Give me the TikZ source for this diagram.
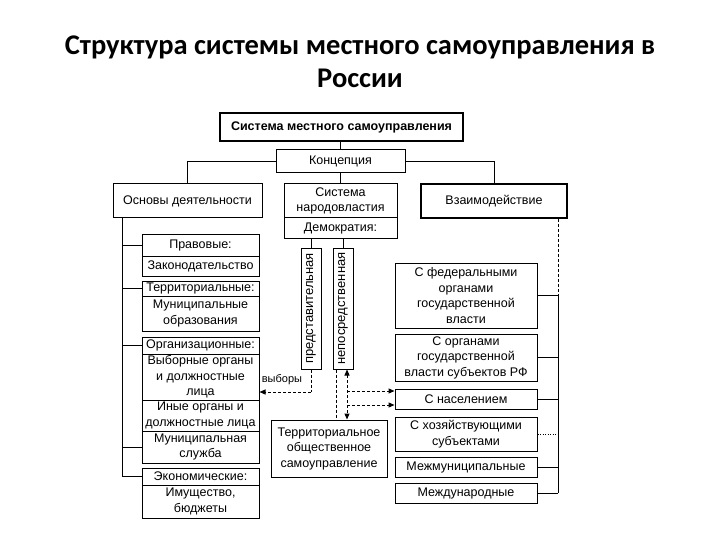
\documentclass[tikz,border=0pt]{standalone}
\usepackage{fontspec}
\setmainfont{Liberation Sans}
\newfontfamily\titlefont{Carlito}
\usetikzlibrary{arrows.meta,calc}
\newcommand\rbox[7][]{%
  \node[box,#1,minimum width={#5-#3},minimum height={#6-#4}] (#2) at ({(#3+#5)/2},{(#4+#6)/2}) {#7};}
\begin{document}
\begin{tikzpicture}[x=1pt,y=-1pt,
  box/.style={draw, line width=1pt, inner sep=0pt, align=center, font=\fontsize{12.5}{15.5}\selectfont},
  thickbox/.style={line width=1.8pt},
  conn/.style={line width=1pt},
  darr/.style={line width=1pt, dash pattern=on 3pt off 2pt, -{Triangle[length=6pt,width=5pt]}},
  dline/.style={line width=1pt, dash pattern=on 3pt off 2pt}]
\useasboundingbox (0,0) rectangle (720,540);
% title
\node[font=\titlefont\bfseries\fontsize{28.5}{33}\selectfont, align=center] (title) at (360,62)
  {Структура системы местного самоуправления в\\России};
% top
\rbox[thickbox,font=\bfseries\fontsize{12.5}{15.5}\selectfont]{top}{220}{113}{463}{141}{Система местного самоуправления}
\rbox{konc}{276}{150}{405}{173}{Концепция}
\rbox{osn}{113}{184}{262}{218}{Основы деятельности}
\rbox{sys}{284}{184}{397}{218}{Система\\народовластия}
\rbox{dem}{284}{218}{397}{238}{Демократия:}
\rbox[thickbox]{vz}{421}{184}{567}{218}{Взаимодействие}
% left column
\rbox{prav}{142}{234}{259}{256}{Правовые:}
\rbox{zak}{142}{256}{259}{276}{Законодательство}
\rbox{terr}{142}{281}{259}{296}{Территориальные:}
\rbox{mo}{142}{296}{259}{331}{Муниципальные\\образования}
\rbox{org}{142}{337}{259}{354}{Организационные:}
\rbox{vyb}{142}{354}{259}{400}{Выборные органы\\и должностные\\лица}
\rbox{inye}{142}{400}{259}{431}{Иные органы и\\должностные лица}
\rbox{ms}{142}{431}{259}{463}{Муниципальная\\служба}
\rbox{ek}{142}{468}{259}{485}{Экономические:}
\rbox{im}{142}{485}{259}{518}{Имущество,\\бюджеты}
% middle
\node[box, font=\fontsize{13}{15}\selectfont, rotate=90, minimum width=121, minimum height=20] (pred) at (311,308.5) {представительная};
\node[box, font=\fontsize{13}{15}\selectfont, rotate=90, minimum width=121, minimum height=20] (nep) at (343,308.5) {непосредственная};
\rbox{tos}{271}{420}{387}{477}{Территориальное\\общественное\\самоуправление}
% right column
\rbox{fed}{395}{263}{537}{328}{С федеральными\\органами\\государственной\\власти}
\rbox{sub}{395}{334}{537}{381}{С органами\\государственной\\власти субъектов РФ}
\rbox{nas}{395}{389}{537}{409}{С населением}
\rbox{hoz}{395}{417}{537}{451}{С хозяйствующими\\субъектами}
\rbox{mm}{395}{457}{537}{477}{Межмуниципальные}
\rbox{mn}{395}{483}{537}{503}{Международные}
% coordinates
\coordinate (lt) at (122,0);
\coordinate (rt) at (558,0);
\coordinate (vx) at (311,392);
\coordinate (nx) at (336,0);
\coordinate (ax) at (347,0);
\coordinate (a1) at (347,391);
\coordinate (a2) at (347,405);
% connectors top
\draw[conn] (konc.north) -- (konc.north |- top.south);
\draw[conn] (konc.west) -| (osn.north);
\draw[conn] (konc.east) -| (vz.north);
\draw[conn] (konc.south) -- (sys.north);
\draw[conn] (dem.south -| pred.east) -- (pred.east);
\draw[conn] (dem.south -| nep.east) -- (nep.east);
% left trunk
\draw[conn] (osn.south -| lt) |- (ek.west);
\draw[conn] (prav.west) -- (prav.west -| lt);
\draw[conn] (terr.west) -- (terr.west -| lt);
\draw[conn] (org.west) -- (org.west -| lt);
\draw[conn] (ms.west) -- (ms.west -| lt);
% right trunk
\draw[dline] (vz.south -| rt) -- (fed.east -| rt);
\draw[conn] (fed.east -| rt) -- (mn.east -| rt);
\draw[conn] (fed.east) -- (fed.east -| rt);
\draw[conn] (sub.east) -- (sub.east -| rt);
\draw[conn] (nas.east) -- (nas.east -| rt);
\draw[line width=1pt, dash pattern=on 1pt off 1.5pt] (hoz.east) -- (hoz.east -| rt);
\draw[conn] (mm.east) -- (mm.east -| rt);
\draw[conn] (mn.east) -- (mn.east -| rt);
% elections
\draw[dline] (pred.west) -- (vx);
\draw[darr] (vx) -- (vx -| vyb.east);
\node[font=\fontsize{11}{12}\selectfont] (vyblab) at (282,380) {выборы};
% direct democracy
\draw[dline] (nep.west -| nx) -- (tos.north -| nx);
\draw[darr, {Triangle[length=6pt,width=5pt]}-{Triangle[length=6pt,width=5pt]}] (nep.west -| ax) -- (tos.north -| ax);
\draw[darr] (a1) -- (a1 -| nas.west);
\draw[darr] (a2) -- (a2 -| nas.west);
\end{tikzpicture}
\end{document}
